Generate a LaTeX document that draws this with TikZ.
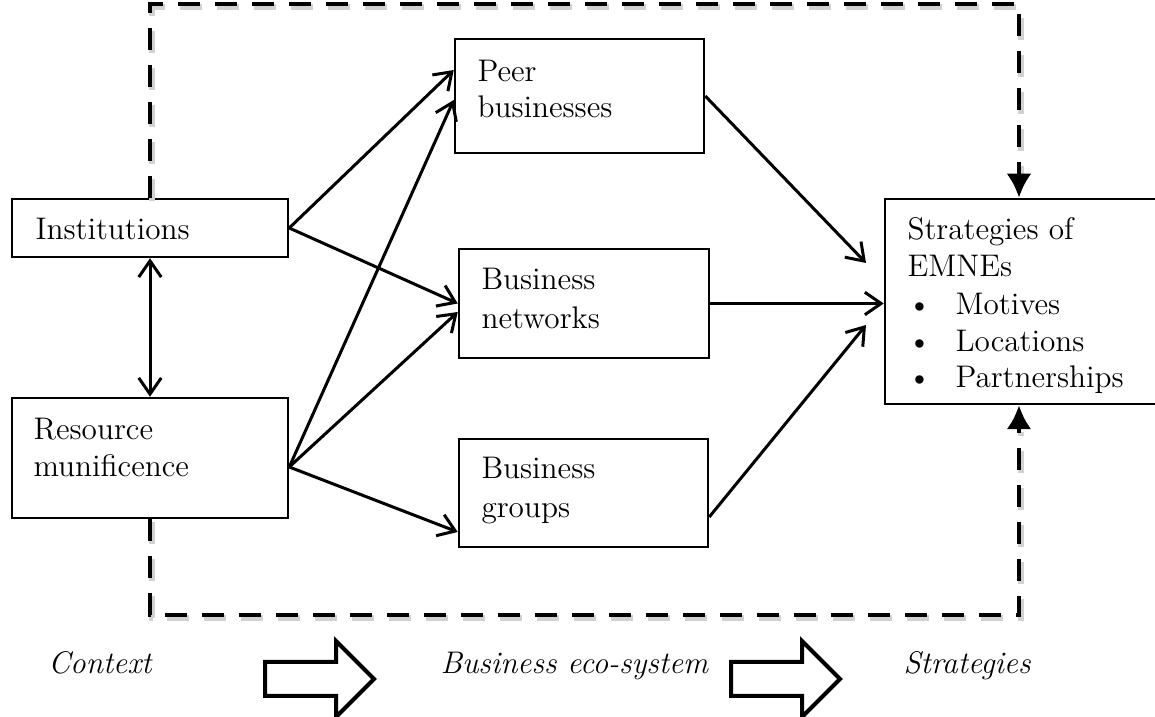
\documentclass[tikz,border=0pt]{standalone}
\usepackage{fontspec}
\usetikzlibrary{arrows.meta,fit,calc}
\begin{document}
\begin{tikzpicture}[
  x=0.4pt, y=-0.4pt,
  box/.style={draw, line width=1pt, fill=white, inner sep=0pt},
  txt/.style={inner sep=0pt, anchor=base west, font=\fontsize{12.5}{15}\selectfont},
  itxt/.style={inner sep=0pt, anchor=base west, font=\fontsize{12.5}{15}\selectfont\itshape},
  conn/.style={line width=1.2pt, -{Straight Barb[length=6.5pt,width=9pt]}},
  dconn/.style={line width=1.2pt, {Straight Barb[length=6.5pt,width=9pt]}-{Straight Barb[length=6.5pt,width=9pt]}},
  frame/.style={line width=1.8pt, dash pattern=on 8.8pt off 6pt, -{Latex[length=9.6pt,width=10pt]}},
  shadowframe/.style={line width=2.4pt, black!18, dash pattern=on 8.8pt off 6pt},
  blockarrow/.pic={\draw[line width=1.6pt, fill=white] (0,-17) -- (71,-17) -- (71,-38) -- (109,0) -- (71,38) -- (71,17) -- (0,17) -- cycle;}
]
\useasboundingbox (0,0) rectangle (1155,717);

% corner coordinates of the dashed frame
\coordinate (tl) at (150,4);
\coordinate (tr) at (1019,4);
\coordinate (bl) at (150,615);
\coordinate (br) at (1019,615);

% boxes
\node[box, fit={(12,199)(288,257)}] (inst) {};
\node[box, fit={(12,398)(288,518)}] (res) {};
\node[box, fit={(455,39)(704,153)}] (peer) {};
\node[box, fit={(459,249)(709,358)}] (bn) {};
\node[box, fit={(459,439)(708,547)}] (bg) {};
\node[box, fit={(885,199)(1160,404)}] (strat) {};

% shadow of the dashed frame
\begin{scope}[transform canvas={shift={(0.6pt,-1.3pt)}}]
\draw[shadowframe] (inst.north) -- (tl) -- (tr) -- ($(tr |- strat.north)+(0,-24)$);
\draw[shadowframe] (res.south) -- (bl) -- (br) -- ($(br |- strat.south)+(0,24)$);
\end{scope}

% dashed frame
\draw[frame] (inst.north) -- (tl) -- (tr) -- (tr |- strat.north);
\draw[frame] (res.south) -- (bl) -- (br) -- (br |- strat.south);

% texts in boxes
\node[txt] (tinst) at (35,240) {Institutions};
\node[txt] (tres1) at (33,440) {Resource};
\node[txt] (tres2) at (33,477) {munificence};
\node[txt] (tpeer1) at (477,82) {Peer};
\node[txt] (tpeer2) at (477,118) {businesses};
\node[txt] (tbn1) at (481,290) {Business};
\node[txt] (tbn2) at (481,329) {networks};
\node[txt] (tbg1) at (481,479) {Business};
\node[txt] (tbg2) at (481,518) {groups};
\node[txt] (ts1) at (907,240) {Strategies of};
\node[txt] (ts2) at (907,277) {EMNEs};
\node[txt] (b1) at (907,315) {\textbullet};
\node[txt] (ts3) at (955,315) {Motives};
\node[txt] (b2) at (907,352) {\textbullet};
\node[txt] (ts4) at (955,352) {Locations};
\node[txt] (b3) at (907,388) {\textbullet};
\node[txt] (ts5) at (955,388) {Partnerships};

% free ends of connectors
\coordinate (s1) at (866,263);
\coordinate (s3) at (866,325);

% connectors
\draw[dconn] (inst.south) -- (res.north);
\draw[conn] (inst.east) -- ([yshift=10.4pt]peer.west);
\draw[conn] ([yshift=-3.6pt]res.east) -- ([yshift=-1.6pt]peer.west);
\draw[conn] (inst.east) -- (bn.west);
\draw[conn] ([yshift=-3.6pt]res.east) -- ([yshift=-3.4pt]bn.west);
\draw[conn] ([yshift=-3.6pt]res.east) -- ([yshift=-15.6pt]bg.west);
\draw[conn] (peer.east) -- (s1);
\draw[conn] (bn.east) -- (bn.east -| strat.west);
\draw[conn] ([yshift=-9.6pt]bg.east) -- (s3);

% bottom row
\node[itxt, anchor=base east] (lctx) at (152,674) {Context};
\node[itxt] (leco) at (440,674) {Business eco-system};
\node[itxt] (lstr) at (903,674) {Strategies};
\pic at (265,679) {blockarrow};
\pic at (731,679) {blockarrow};
\end{tikzpicture}
\end{document}
